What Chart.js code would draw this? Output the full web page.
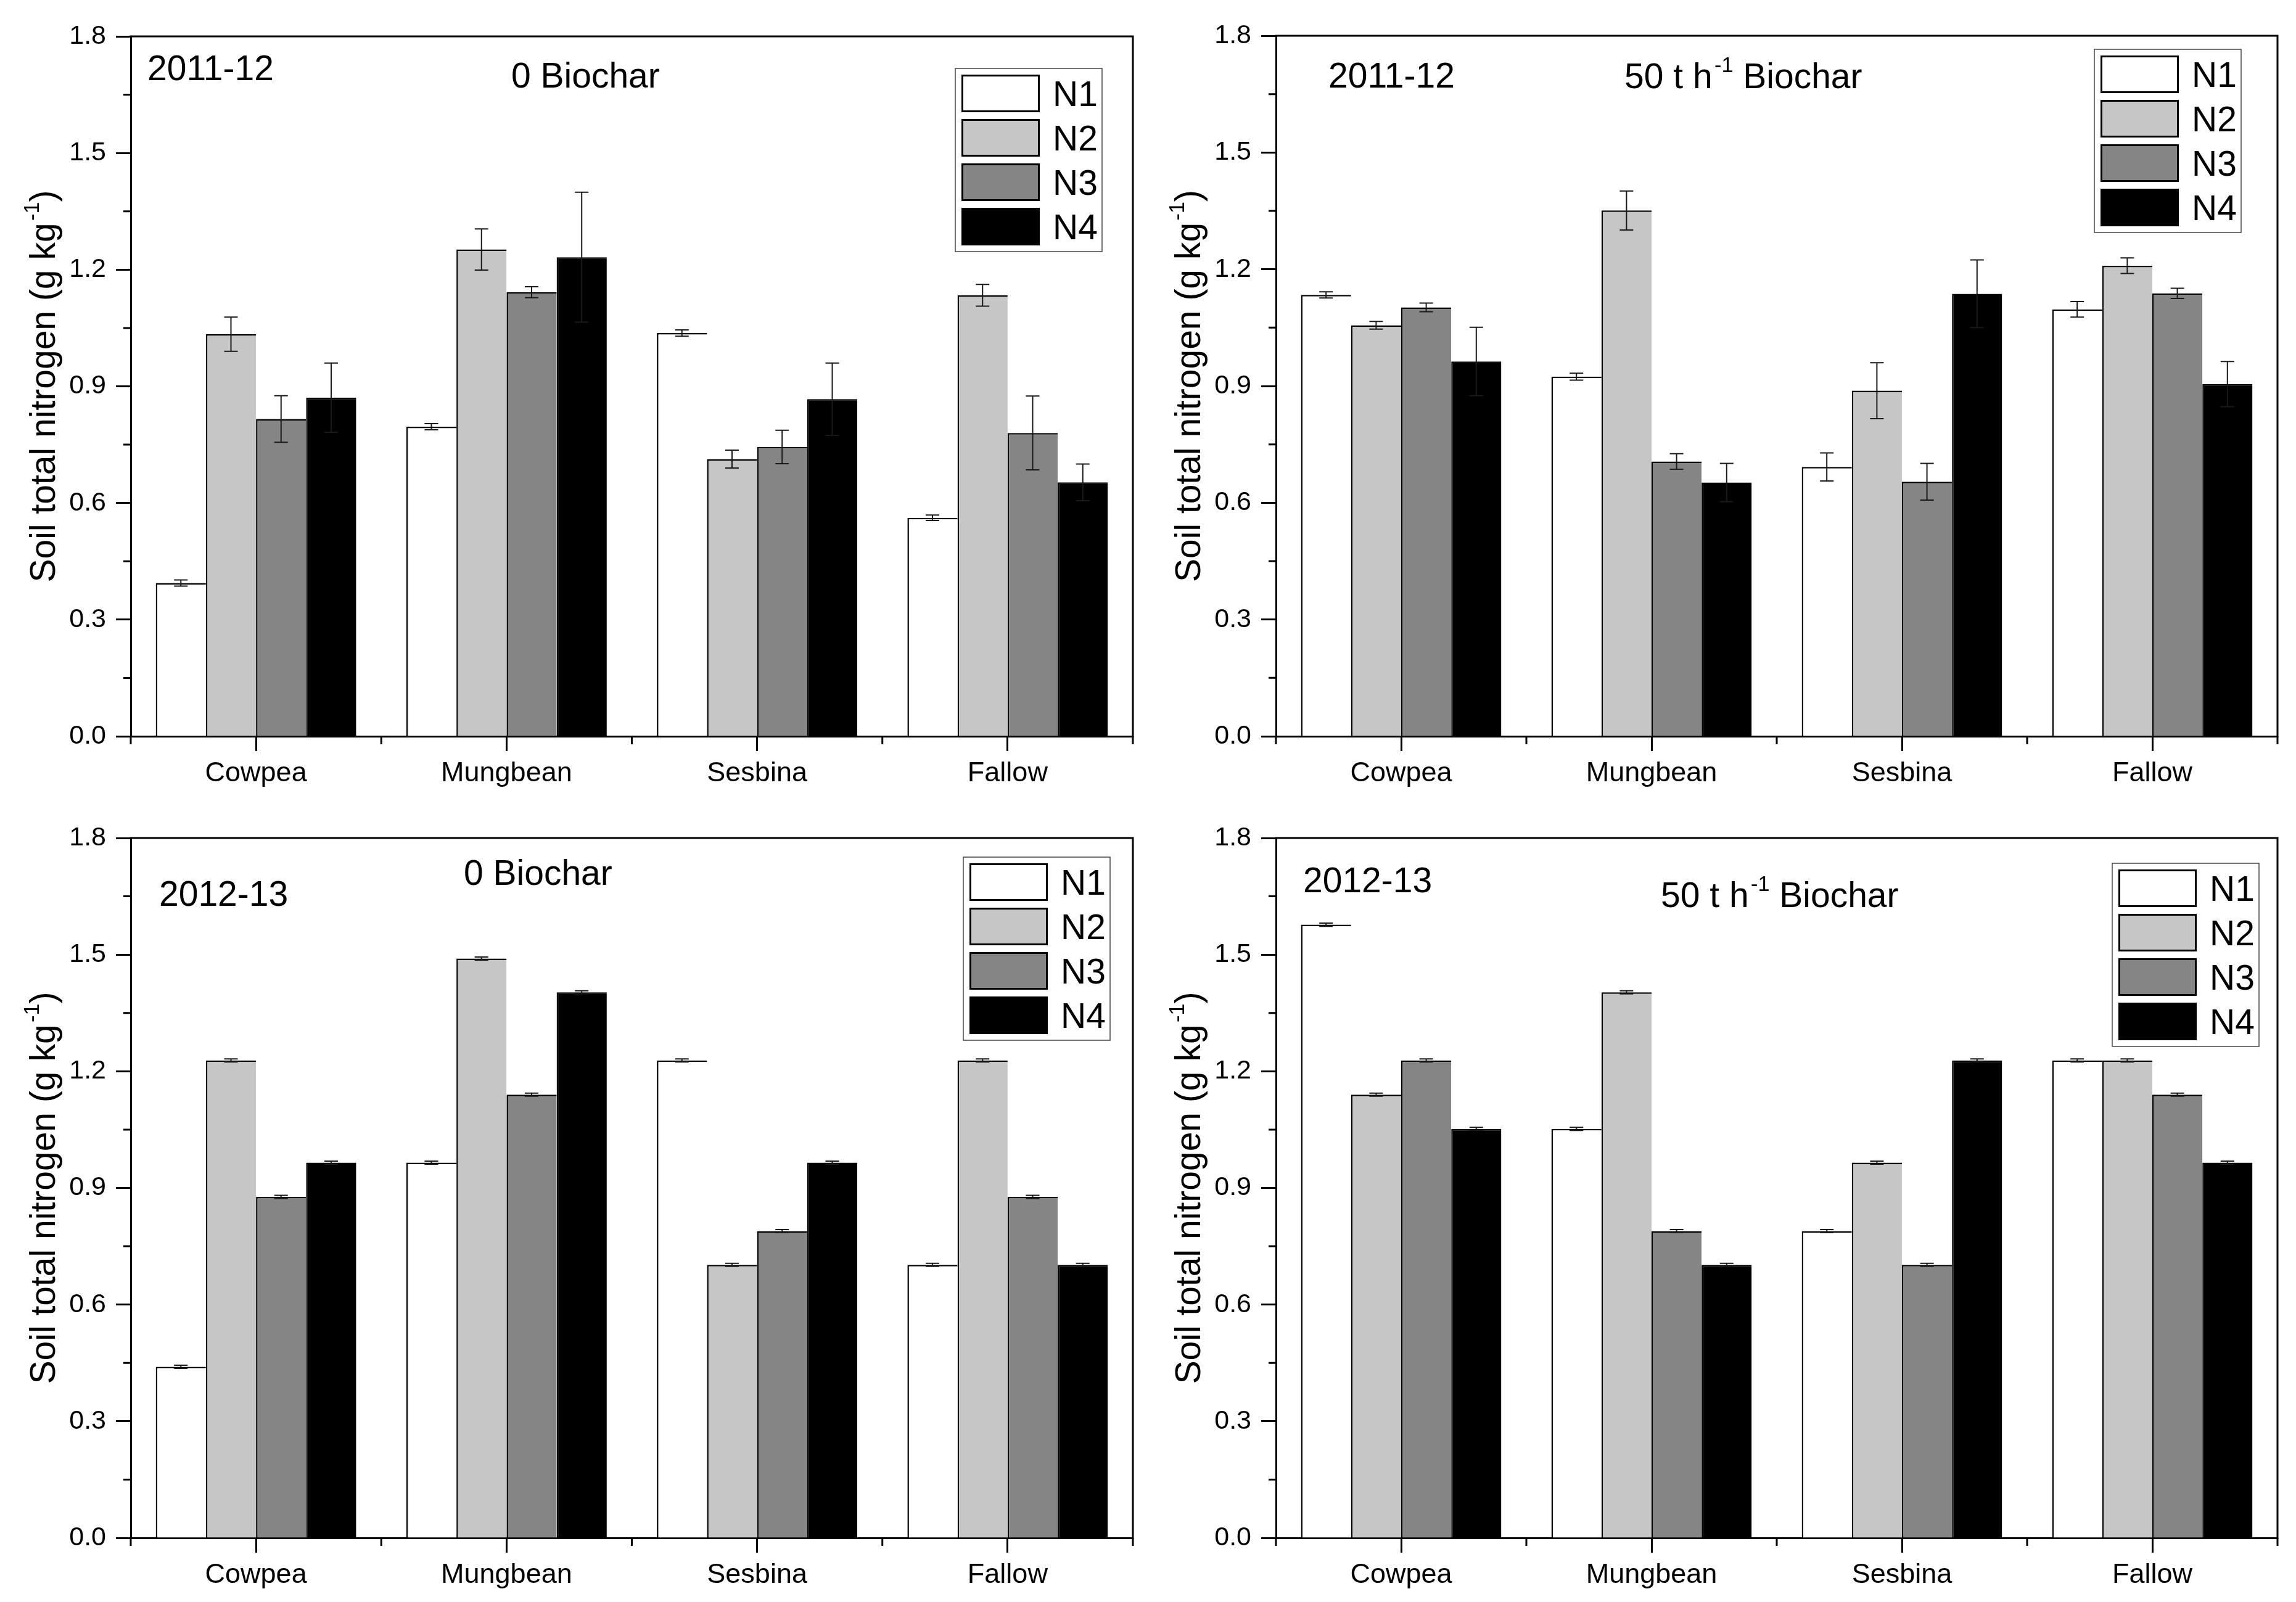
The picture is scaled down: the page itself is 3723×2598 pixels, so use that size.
<!DOCTYPE html>
<html>
<head>
<meta charset="utf-8">
<script src="https://cdn.jsdelivr.net/npm/chart.js@4/dist/chart.umd.min.js"></script>
<style>
html,body{margin:0;padding:0;background:#fff;}
#wrap{position:relative;width:3723px;height:2598px;overflow:hidden;background:#fff;}
canvas{position:absolute;}
</style>
</head>
<body>
<div id="wrap">
<canvas id="c0"></canvas>
<canvas id="c1"></canvas>
<canvas id="c2"></canvas>
<canvas id="c3"></canvas>
</div>
<script>
// ---------------- DATA ----------------
const categories = ['Cowpea', 'Mungbean', 'Sesbina', 'Fallow'];
const seriesLabels = ['N1', 'N2', 'N3', 'N4'];
const yTickLabels = ['0.0', '0.3', '0.6', '0.9', '1.2', '1.5', '1.8'];

// 2011-12, 0 Biochar  (rows: N1..N4, columns: categories)
const v2011_0 = [
  [0.394, 0.796, 1.037, 0.562],
  [1.034, 1.252, 0.713, 1.134],
  [0.816, 1.142, 0.744, 0.780],
  [0.871, 1.232, 0.867, 0.653]
];
const e2011_0 = [
  [0.008, 0.008, 0.008, 0.007],
  [0.044, 0.053, 0.023, 0.028],
  [0.060, 0.014, 0.043, 0.095],
  [0.089, 0.167, 0.093, 0.047]
];
// 2011-12, 50 t h-1 Biochar
const v2011_50 = [
  [1.134, 0.924, 0.692, 1.097],
  [1.056, 1.351, 0.888, 1.209],
  [1.102, 0.706, 0.654, 1.138],
  [0.963, 0.652, 1.137, 0.905]
];
const e2011_50 = [
  [0.008, 0.009, 0.036, 0.020],
  [0.010, 0.050, 0.072, 0.020],
  [0.011, 0.020, 0.047, 0.013],
  [0.088, 0.049, 0.087, 0.058]
];
// 2012-13, 0 Biochar
const v2012_0 = [
  [0.440, 0.965, 1.228, 0.702],
  [1.228, 1.490, 0.702, 1.228],
  [0.877, 1.140, 0.789, 0.877],
  [0.965, 1.403, 0.965, 0.702]
];
const e2012_0 = [
  [0.004, 0.004, 0.004, 0.004],
  [0.004, 0.004, 0.004, 0.004],
  [0.004, 0.004, 0.004, 0.004],
  [0.004, 0.004, 0.004, 0.004]
];
// 2012-13, 50 t h-1 Biochar
const v2012_50 = [
  [1.577, 1.052, 0.789, 1.228],
  [1.140, 1.403, 0.965, 1.228],
  [1.228, 0.789, 0.702, 1.140],
  [1.052, 0.702, 1.228, 0.965]
];
const e2012_50 = [
  [0.004, 0.004, 0.004, 0.004],
  [0.004, 0.004, 0.004, 0.004],
  [0.004, 0.004, 0.004, 0.004],
  [0.004, 0.004, 0.004, 0.004]
];

// ---------------- STYLE ----------------
const FONT = '"Liberation Sans", Arial, Helvetica, sans-serif';
const fillColors = ['#ffffff', '#c6c6c6', '#858585', '#000000'];

const panels = [
  { id: 'c0', left: 0, top: 0, w: 1861, h: 1299,
    area: { left: 212, top: 59, right: 1837, bottom: 1194 },
    values: v2011_0, errors: e2011_0,
    year: '2011-12', yearPos: [239, 130],
    title: [{ t: '0 Biochar' }], titlePos: [829, 142],
    legend: [1549, 111] },
  { id: 'c1', left: 1861, top: 0, w: 1862, h: 1299,
    area: { left: 208, top: 58, right: 1832, bottom: 1194 },
    values: v2011_50, errors: e2011_50,
    year: '2011-12', yearPos: [293, 142],
    title: [{ t: '50 t h' }, { t: '-1', sup: true }, { t: ' Biochar' }], titlePos: [773, 143],
    legend: [1535, 80] },
  { id: 'c2', left: 0, top: 1299, w: 1861, h: 1299,
    area: { left: 212, top: 60, right: 1837, bottom: 1195 },
    values: v2012_0, errors: e2012_0,
    year: '2012-13', yearPos: [258, 170],
    title: [{ t: '0 Biochar' }], titlePos: [752, 136],
    legend: [1562, 91] },
  { id: 'c3', left: 1861, top: 1299, w: 1862, h: 1299,
    area: { left: 208, top: 60, right: 1832, bottom: 1195 },
    values: v2012_50, errors: e2012_50,
    year: '2012-13', yearPos: [252, 148],
    title: [{ t: '50 t h' }, { t: '-1', sup: true }, { t: ' Biochar' }], titlePos: [832, 172],
    legend: [1564, 101] }
];

const yTitle = [{ t: 'Soil total nitrogen (g kg' }, { t: '-1', sup: true }, { t: ')' }];

function richWidth(ctx, segs, size) {
  let w = 0;
  for (const s of segs) {
    ctx.font = (s.sup ? size * 0.6 : size) + 'px ' + FONT;
    w += ctx.measureText(s.t).width + (s.sup ? size * 0.06 : 0);
  }
  return w;
}
function drawRich(ctx, x, y, segs, size) {
  let cx = x;
  ctx.textAlign = 'left';
  ctx.textBaseline = 'alphabetic';
  for (const s of segs) {
    if (s.sup) {
      ctx.font = (size * 0.6) + 'px ' + FONT;
      cx += size * 0.06;
      ctx.fillText(s.t, cx, y - size * 0.45);
    } else {
      ctx.font = size + 'px ' + FONT;
      ctx.fillText(s.t, cx, y);
    }
    cx += ctx.measureText(s.t).width;
  }
}

const errorBarPlugin = {
  id: 'errorBars',
  afterDatasetsDraw(chart) {
    const { ctx, scales: { y } } = chart;
    ctx.save();
    ctx.strokeStyle = '#1a1a1a';
    ctx.lineWidth = 2;
    chart.data.datasets.forEach((ds, i) => {
      const meta = chart.getDatasetMeta(i);
      meta.data.forEach((bar, j) => {
        const v = ds.data[j], e = ds.errors[j];
        const yt = y.getPixelForValue(v + e);
        const yb = y.getPixelForValue(v - e);
        const cap = 11;
        ctx.beginPath();
        ctx.moveTo(bar.x, yt); ctx.lineTo(bar.x, yb);
        ctx.moveTo(bar.x - cap, yt); ctx.lineTo(bar.x + cap, yt);
        ctx.moveTo(bar.x - cap, yb); ctx.lineTo(bar.x + cap, yb);
        ctx.stroke();
      });
    });
    ctx.restore();
  }
};

const decoPlugin = {
  id: 'deco',
  afterDraw(chart, args, opts) {
    const p = opts.panel;
    const { ctx, chartArea: a, scales: { x, y } } = chart;
    ctx.save();
    ctx.strokeStyle = '#000';
    ctx.lineWidth = 3;
    // top & right frame
    ctx.beginPath();
    ctx.moveTo(a.left - 1.5, a.top);
    ctx.lineTo(a.right, a.top);
    ctx.lineTo(a.right, a.bottom + 1.5);
    ctx.stroke();
    // minor y ticks
    ctx.beginPath();
    for (let k = 0; k < 6; k++) {
      const py = y.getPixelForValue(0.15 + 0.3 * k);
      ctx.moveTo(a.left, py); ctx.lineTo(a.left - 12, py);
    }
    // minor x ticks at category boundaries
    for (let k = 0; k <= categories.length; k++) {
      const px = x.getPixelForValue(k - 0.5);
      ctx.moveTo(px, a.bottom); ctx.lineTo(px, a.bottom + 13);
    }
    ctx.stroke();

    // y-axis title
    ctx.fillStyle = '#000';
    ctx.save();
    ctx.translate(a.left - 123, (a.top + a.bottom) / 2);
    ctx.rotate(-Math.PI / 2);
    const tw = richWidth(ctx, yTitle, 57);
    drawRich(ctx, -tw / 2, 0, yTitle, 57);
    ctx.restore();

    // panel texts
    drawRich(ctx, p.yearPos[0], p.yearPos[1], [{ t: p.year }], 57);
    drawRich(ctx, p.titlePos[0], p.titlePos[1], p.title, 57);

    // legend
    const lx = p.legend[0], ly = p.legend[1];
    ctx.lineWidth = 1.5;
    ctx.strokeStyle = '#444';
    ctx.strokeRect(lx, ly, 238, 297);
    chart.data.datasets.forEach((ds, i) => {
      const sx = lx + 10, sy = ly + 10 + i * 72;
      ctx.fillStyle = ds.backgroundColor;
      ctx.fillRect(sx, sy, 127, 61);
      ctx.lineWidth = 3;
      ctx.strokeStyle = '#000';
      ctx.strokeRect(sx + 1.5, sy + 1.5, 124, 58);
      ctx.fillStyle = '#000';
      ctx.font = '57px ' + FONT;
      ctx.textAlign = 'left';
      ctx.textBaseline = 'alphabetic';
      ctx.fillText(ds.label, lx + 158, sy + 30.5 + 20.5);
    });
    ctx.restore();
  }
};

panels.forEach(p => {
  const cv = document.getElementById(p.id);
  cv.width = p.w; cv.height = p.h;
  cv.style.left = p.left + 'px'; cv.style.top = p.top + 'px';
  cv.style.width = p.w + 'px'; cv.style.height = p.h + 'px';

  const datasets = seriesLabels.map((lab, i) => ({
    label: lab,
    data: p.values[i],
    errors: p.errors[i],
    backgroundColor: fillColors[i],
    borderColor: '#000',
    borderWidth: { left: 2.5, top: 2.5, right: 0, bottom: 0 },
    borderSkipped: false,
    categoryPercentage: 0.8,
    barPercentage: 1.0
  }));

  new Chart(cv, {
    type: 'bar',
    data: { labels: categories, datasets },
    plugins: [errorBarPlugin, decoPlugin],
    options: {
      responsive: false,
      animation: false,
      devicePixelRatio: 1,
      layout: { padding: { top: p.area.top, right: p.w - p.area.right, left: 0, bottom: 0 } },
      plugins: {
        legend: { display: false },
        tooltip: { enabled: false },
        deco: { panel: p }
      },
      scales: {
        x: {
          type: 'category',
          offset: true,
          z: 1,
          grid: { display: true, offset: false, drawOnChartArea: false, drawTicks: true,
                  tickLength: 24, tickWidth: 3, tickColor: '#000' },
          border: { display: true, color: '#000', width: 3 },
          ticks: { color: '#000', font: { family: FONT, size: 45 }, padding: 10,
                   maxRotation: 0, autoSkip: false },
          afterFit: s => { s.height = p.h - p.area.bottom; }
        },
        y: {
          min: 0, max: 1.8,
          z: 1,
          grid: { display: true, drawOnChartArea: false, drawTicks: true,
                  tickLength: 24, tickWidth: 3, tickColor: '#000' },
          border: { display: true, color: '#000', width: 3 },
          ticks: { stepSize: 0.3, autoSkip: false, color: '#000', padding: 16,
                   font: { family: FONT, size: 43 },
                   callback: (v, idx) => yTickLabels[idx] },
          afterFit: s => { s.width = p.area.left; }
        }
      }
    }
  });
});
</script>
</body>
</html>
